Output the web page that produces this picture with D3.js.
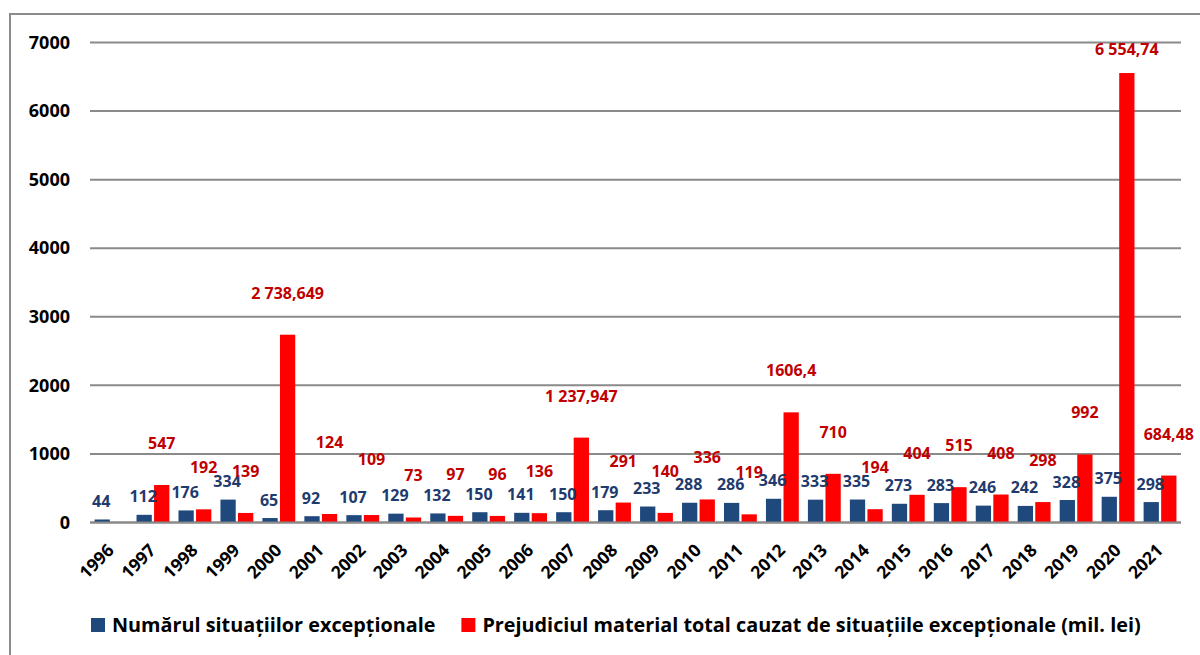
<!DOCTYPE html>
<html>
<head>
<meta charset="utf-8">
<script src="https://cdn.jsdelivr.net/npm/d3@7"></script>
<style>
  body { margin: 0; background: #fff; }
  svg text { font-family: "Open Sans", Lato, sans-serif; font-weight: bold; }
</style>
</head>
<body>
<div id="chart"></div>
<script>
var years = ["1996", "1997", "1998", "1999", "2000", "2001", "2002", "2003", "2004",
             "2005", "2006", "2007", "2008", "2009", "2010", "2011", "2012", "2013",
             "2014", "2015", "2016", "2017", "2018", "2019", "2020", "2021"];

// Numărul situațiilor excepționale
var counts = [44, 112, 176, 334, 65, 92, 107, 129, 132, 150, 141, 150, 179,
              233, 288, 286, 346, 333, 335, 273, 283, 246, 242, 328, 375, 298];

// Prejudiciul material (mil. lei), 1996 has no value
var damages = [null, 547, 192, 139, 2738.649, 124, 109, 73, 97, 96, 136, 1237.947, 291,
               140, 336, 119, 1606.4, 710, 194, 404, 515, 408, 298, 992, 6554.74, 684.48];
var damageLabels = ["", "547", "192", "139", "2 738,649", "124", "109", "73", "97", "96",
                    "136", "1 237,947", "291", "140", "336", "119", "1606,4", "710", "194",
                    "404", "515", "408", "298", "992", "6 554,74", "684,48"];

var yTicks = [0, 1000, 2000, 3000, 4000, 5000, 6000, 7000];
var seriesNames = ["Numărul situațiilor excepționale",
                   "Prejudiciul material total cauzat de situațiile excepționale (mil. lei)"];

var width = 1200, height = 655;
var blue = "#1F497D", red = "#FF0000";
var font = "'Open Sans', Lato, sans-serif";

var svg = d3.select("#chart").append("svg")
    .attr("width", width)
    .attr("height", height);

// outer frame (runs past the right and bottom edges)
svg.append("rect")
    .attr("x", 10).attr("y", 14)
    .attr("width", 1220).attr("height", 680)
    .attr("fill", "none")
    .attr("stroke", "#8c8c8c")
    .attr("stroke-width", 2);

var x = d3.scaleBand()
    .domain(years)
    .range([90, 1181]);

var xs = d3.scaleBand()
    .domain(["n", "p"])
    .range([0, x.step()])
    .paddingInner(0.13)
    .paddingOuter(0.26);

var y = d3.scaleLinear()
    .domain([0, 7000])
    .range([522.5, 42.5]);

// gridlines
svg.append("g")
    .selectAll("line")
    .data(yTicks)
    .enter().append("line")
    .attr("x1", 90).attr("x2", 1181)
    .attr("y1", d => y(d)).attr("y2", d => y(d))
    .attr("stroke", "#8a8a8a")
    .attr("stroke-width", 2);

// y axis labels
var yAxis = svg.append("g")
    .attr("transform", "translate(90,0)")
    .call(d3.axisLeft(y).tickValues(yTicks).tickSize(0).tickPadding(20).tickFormat(d3.format("d")));
yAxis.select(".domain").remove();
yAxis.selectAll("text")
    .style("font-size", "18px")
    .style("font-family", font)
    .style("font-weight", "bold")
    .attr("fill", "#000");

// bars
var groups = svg.append("g")
    .selectAll("g")
    .data(years)
    .enter().append("g")
    .attr("transform", d => "translate(" + x(d) + ",0)");

groups.append("rect")
    .attr("x", xs("n"))
    .attr("width", xs.bandwidth())
    .attr("y", (d, i) => y(counts[i]))
    .attr("height", (d, i) => y(0) - y(counts[i]))
    .attr("fill", blue);

groups.filter((d, i) => damages[i] != null)
    .append("rect")
    .attr("x", xs("p"))
    .attr("width", xs.bandwidth())
    .attr("y", d => y(damages[years.indexOf(d)]))
    .attr("height", d => y(0) - y(damages[years.indexOf(d)]))
    .attr("fill", red);

// redraw the zero line over the bars
svg.append("line")
    .attr("x1", 90).attr("x2", 1181)
    .attr("y1", y(0)).attr("y2", y(0))
    .attr("stroke", "#8a8a8a")
    .attr("stroke-width", 2);

// x axis labels
var xAxis = svg.append("g")
    .attr("transform", "translate(0," + y(0) + ")")
    .call(d3.axisBottom(x).tickSize(0).tickPadding(0));
xAxis.select(".domain").remove();
xAxis.selectAll("text")
    .attr("text-anchor", "end")
    .attr("dy", null)
    .attr("y", 0)
    .attr("transform", "translate(4,29) rotate(-45)")
    .style("font-size", "17.5px")
    .style("font-family", font)
    .style("font-weight", "bold")
    .attr("fill", "#000");

// value labels, blue series
groups.append("text")
    .attr("x", xs("n") + xs.bandwidth() / 2 - 1)
    .attr("y", (d, i) => y(counts[i]) - 12.5)
    .attr("text-anchor", "middle")
    .style("font-size", "16px")
    .attr("fill", "#1F3B6E")
    .text((d, i) => counts[i]);

// value labels, red series (a few were moved by hand in the original)
var redShift = {"2001": -30, "2002": -14, "2020": 18};
groups.filter((d, i) => damages[i] != null)
    .append("text")
    .attr("x", xs("p") + xs.bandwidth() / 2)
    .attr("y", d => y(damages[years.indexOf(d)]) - 36 + (redShift[d] || 0))
    .attr("text-anchor", "middle")
    .style("font-size", "16px")
    .attr("fill", "#C00000")
    .text(d => damageLabels[years.indexOf(d)]);

// legend
var legend = svg.append("g").attr("transform", "translate(91,618)");
var items = legend.selectAll("g")
    .data(seriesNames)
    .enter().append("g");
items.append("rect")
    .attr("width", 14).attr("height", 14)
    .attr("fill", (d, i) => i === 0 ? blue : red);
var labels = items.append("text")
    .attr("x", 21).attr("y", 14)
    .style("font-size", "18px")
    .attr("fill", "#000")
    .text(d => d);
// size the legend text so the second entry spans the same width as in the original
var w2 = labels.nodes()[1].getComputedTextLength();
labels.style("font-size", (18 * 659 / w2) + "px");
var lx = 0;
items.each(function(d, i) {
    d3.select(this).attr("transform", "translate(" + lx + ",0)");
    lx += 21 + labels.nodes()[i].getComputedTextLength() + 26;
});
</script>
</body>
</html>
